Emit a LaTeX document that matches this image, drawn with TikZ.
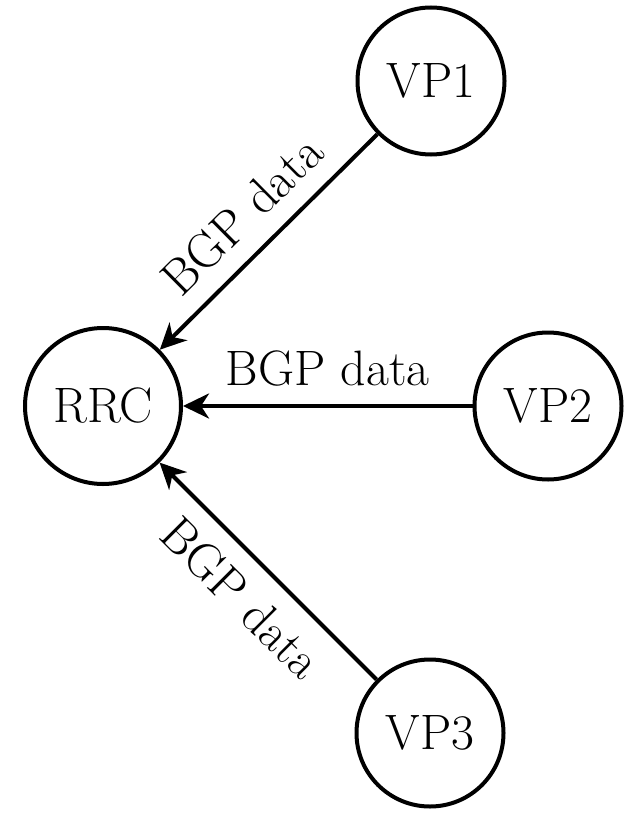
\documentclass[tikz,border=0pt]{standalone}
\usetikzlibrary{arrows.meta}
\begin{document}
\begin{tikzpicture}[x=0.5pt,y=-0.5pt,
  vp/.style={circle,draw,line width=2pt,minimum size=73.5pt,inner sep=0pt,font=\Huge},
  hub/.style={circle,draw,line width=2pt,minimum size=78pt,inner sep=0pt,font=\Huge},
  flow/.style={line width=2pt,{Stealth[length=13pt,width=12.5pt,inset=4pt]}-},
  lbl/.style={font=\Huge,inner sep=9pt}]
\useasboundingbox (0,0) rectangle (641,813);
\node[hub] (rrc) at (103,406) {RRC};
\node[vp] (vp1) at (431,81) {VP1};
\node[vp] (vp2) at (548,406) {VP2};
\node[vp] (vp3) at (430,733) {VP3};
\draw[flow] (rrc) -- node[lbl,sloped,above] {BGP data} (vp1);
\draw[flow] (rrc) -- node[lbl,above] {BGP data} (vp2);
\draw[flow] (rrc) -- node[lbl,sloped,below] {BGP data} (vp3);
\end{tikzpicture}
\end{document}
